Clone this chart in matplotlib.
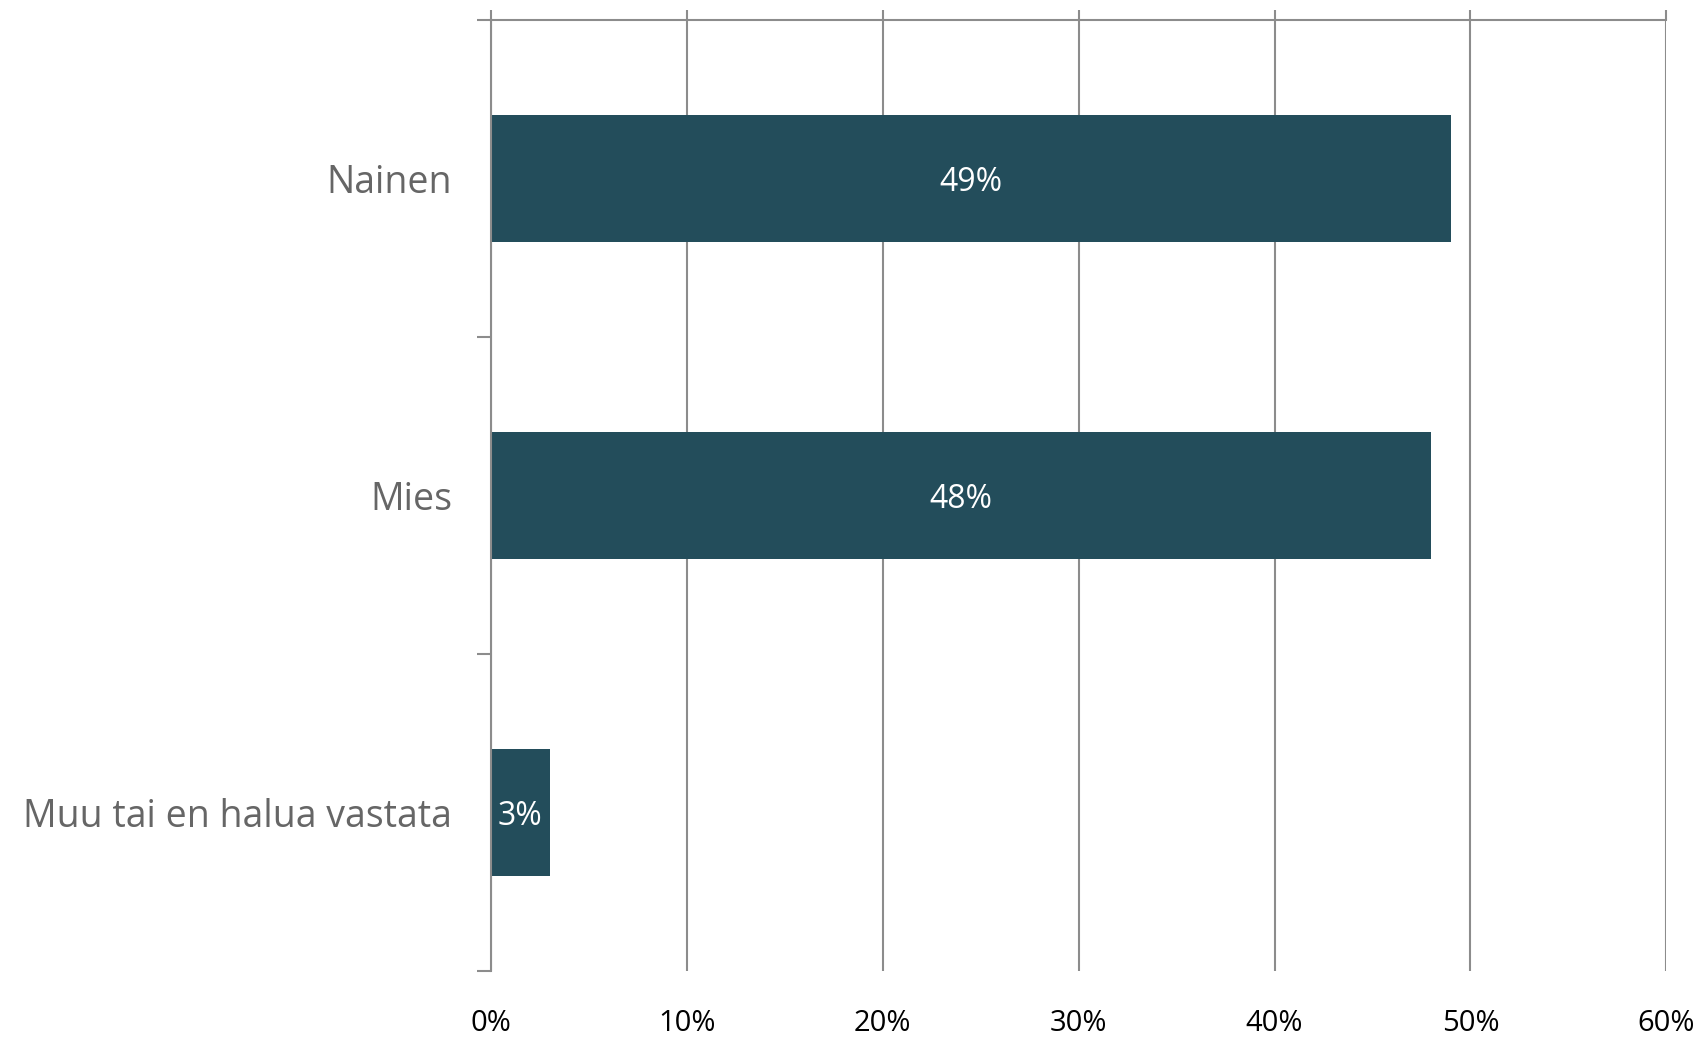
import matplotlib.pyplot as plt
from matplotlib.ticker import FixedLocator

# data
categories = ["Nainen", "Mies", "Muu tai en halua vastata"]
values = [49, 48, 3]
xticks = [0, 10, 20, 30, 40, 50, 60]

bar_color = "#234D5B"
line_color = "#8C8C8C"

plt.rcParams['font.family'] = ['Open Sans', 'DejaVu Sans']

fig = plt.figure(figsize=(17.02, 10.37), dpi=100)
ax = fig.add_axes([0.2885, 0.0632, 0.979 - 0.2885, 0.981 - 0.0632])

ypos = list(range(len(categories)))
bars = ax.barh(ypos, values, height=0.4, color=bar_color, zorder=3)

for y, v in zip(ypos, values):
    ax.text(v / 2, y, f"{v}%", ha="center", va="center_baseline",
            color="white", fontsize=23, zorder=4)

ax.set_xlim(0, 60)
ax.set_ylim(len(categories) - 0.5, -0.5)

ax.set_xticks(xticks)
ax.set_xticklabels([f"{t}%" for t in xticks])
ax.xaxis.grid(True, color=line_color, linewidth=1.5, zorder=0)
ax.tick_params(axis="x", which="major", top=True, bottom=False,
               labeltop=False, labelbottom=True, direction="out",
               length=7, width=1.5, color=line_color, labelsize=21,
               labelcolor="black", pad=20)

ax.set_yticks(ypos)
ax.set_yticklabels(categories)
ax.yaxis.set_minor_locator(FixedLocator([-0.5, 0.5, 1.5, 2.5]))
ax.tick_params(axis="y", which="major", length=0, labelsize=27,
               labelcolor="#666666", pad=28)
ax.tick_params(axis="y", which="minor", length=10, width=1.5,
               color=line_color, direction="out")

for s in ["right", "bottom"]:
    ax.spines[s].set_visible(False)
ax.spines["top"].set_color(line_color)
ax.spines["top"].set_linewidth(1.5)
ax.spines["left"].set_color(line_color)
ax.spines["left"].set_linewidth(1.5)
ax.spines["left"].set_zorder(5)

fig.savefig("out.png", dpi=100)
